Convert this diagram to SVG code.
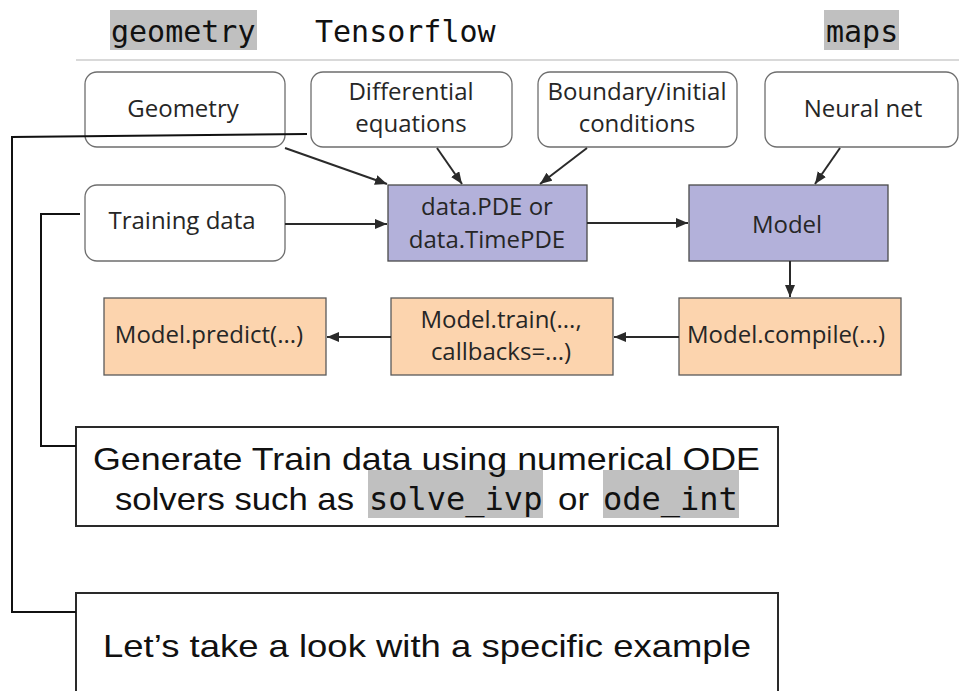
<svg xmlns="http://www.w3.org/2000/svg" width="959" height="691" viewBox="0 0 959 691">
<style>
.rnd{fill:#fff;stroke:#6e6e6e;stroke-width:1.3}
.pur{fill:#b3b1da;stroke:#4a4a4a;stroke-width:1.3}
.org{fill:#fcd4ae;stroke:#5a5a5a;stroke-width:1.3}
.lbl{font-family:"Open Sans",sans-serif;font-size:24px;fill:#262626;text-anchor:middle}
.mono{font-family:"DejaVu Sans Mono",monospace;fill:#111}
.hl{fill:#c0c0c0}
.body{font-family:"Liberation Sans","Noto Sans",sans-serif;font-size:32px;fill:#111}
.arr{stroke:#2a2a2a;stroke-width:2;fill:none;marker-end:url(#ah)}
.call{stroke:#111;stroke-width:2;fill:none}
.box{fill:#fff;stroke:#2a2a2a;stroke-width:2}
</style>
<defs>
<marker id="ah" markerUnits="userSpaceOnUse" markerWidth="14" markerHeight="12" refX="12" refY="5" orient="auto">
<path d="M0,0 L12,5 L0,10 Z" fill="#2a2a2a"/>
</marker>
</defs>
<rect width="959" height="691" fill="#fff"/>
<g id="header">
<rect class="hl" x="110" y="10" width="147" height="40"/>
<text class="mono" x="111" y="42" font-size="30">geometry</text>
<text class="mono" x="315" y="42" font-size="30">Tensorflow</text>
<rect class="hl" x="824" y="10" width="75" height="40"/>
<text class="mono" x="826" y="42" font-size="30">maps</text>
<line x1="76" y1="60" x2="959" y2="60" stroke="#cccccc" stroke-width="1.5"/>
</g>
<g id="geometry">
<rect class="rnd" x="85" y="72" width="200" height="75" rx="12"/>
<text class="lbl" x="183" y="117">Geometry</text>
</g>
<g id="differential">
<rect class="rnd" x="311" y="72" width="201" height="75" rx="12"/>
<text class="lbl" x="411" y="100">Differential</text>
<text class="lbl" x="411" y="132">equations</text>
</g>
<g id="boundary">
<rect class="rnd" x="538" y="72" width="199" height="75" rx="12"/>
<text class="lbl" x="637" y="100">Boundary/initial</text>
<text class="lbl" x="637" y="132">conditions</text>
</g>
<g id="neuralnet">
<rect class="rnd" x="765" y="72" width="193" height="75" rx="12"/>
<text class="lbl" x="863" y="117">Neural net</text>
</g>
<g id="training">
<rect class="rnd" x="85" y="185" width="200" height="76" rx="12"/>
<text class="lbl" x="182" y="229">Training data</text>
</g>
<g id="datapde">
<rect class="pur" x="388" y="185" width="199" height="76"/>
<text class="lbl" x="487" y="215">data.PDE or</text>
<text class="lbl" x="487" y="248">data.TimePDE</text>
</g>
<g id="model">
<rect class="pur" x="689" y="185" width="199" height="76"/>
<text class="lbl" x="787" y="233">Model</text>
</g>
<g id="compile">
<rect class="org" x="679" y="298" width="222" height="77"/>
<text class="lbl" x="786" y="343">Model.compile(...)</text>
</g>
<g id="train">
<rect class="org" x="391" y="298" width="222" height="77"/>
<text class="lbl" x="501" y="328">Model.train(...,</text>
<text class="lbl" x="501" y="360">callbacks=...)</text>
</g>
<g id="predict">
<rect class="org" x="104" y="298" width="222" height="77"/>
<text class="lbl" x="209" y="343">Model.predict(...)</text>
</g>
<g id="note1">
<rect class="box" x="76" y="427" width="702" height="99"/>
<rect class="hl" x="368" y="470" width="175" height="48"/>
<rect class="hl" x="603" y="470" width="136" height="48"/>
<text class="body" x="93" y="470" textLength="667" lengthAdjust="spacingAndGlyphs">Generate Train data using numerical ODE</text>
<text class="body" x="115" y="510" textLength="239" lengthAdjust="spacingAndGlyphs">solvers such as</text>
<text class="mono" x="369" y="510" font-size="32">solve_ivp</text>
<text class="body" x="558" y="510" textLength="31" lengthAdjust="spacingAndGlyphs">or</text>
<text class="mono" x="603" y="510" font-size="32">ode_int</text>
</g>
<g id="note2">
<rect class="box" x="76" y="593" width="702" height="110"/>
<text class="body" x="103" y="657" textLength="648" lengthAdjust="spacingAndGlyphs">Let’s take a look with a specific example</text>
</g>
<g id="connectors">
<line class="arr" x1="285" y1="148" x2="387" y2="184"/>
<line class="arr" x1="437" y1="148" x2="462" y2="184"/>
<line class="arr" x1="587" y1="148" x2="540" y2="184"/>
<line class="arr" x1="840" y1="148" x2="815" y2="184"/>
<line class="arr" x1="285" y1="224" x2="387" y2="224"/>
<line class="arr" x1="587" y1="223" x2="688" y2="223"/>
<line class="arr" x1="790" y1="261" x2="790" y2="297"/>
<line class="arr" x1="679" y1="337" x2="614" y2="337"/>
<line class="arr" x1="391" y1="337" x2="327" y2="337"/>
<polyline class="call" points="307,134 12,137 12,612 76,612"/>
<polyline class="call" points="80,214 41,214 41,446 76,446"/>
</g>
</svg>
